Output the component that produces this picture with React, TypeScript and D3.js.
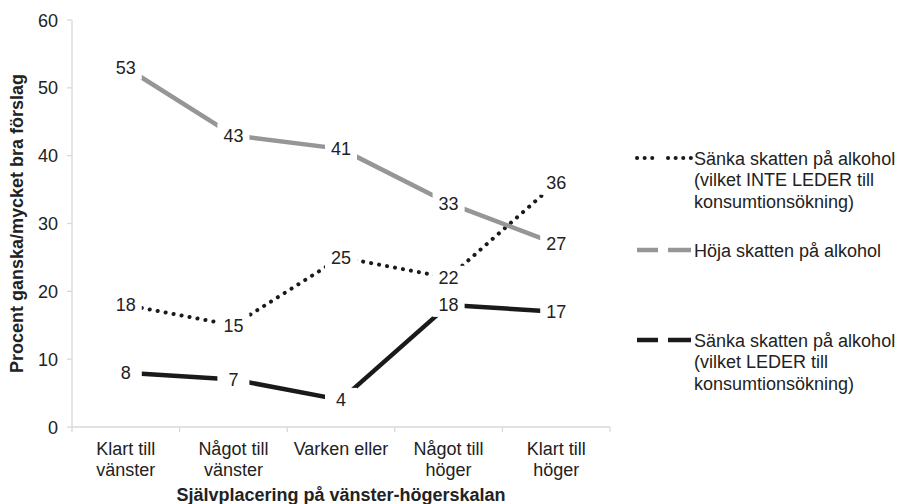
import React from "react";
import * as d3 from "d3";

const categories: string[][] = [
  ["Klart till", "vänster"],
  ["Något till", "vänster"],
  ["Varken eller"],
  ["Något till", "höger"],
  ["Klart till", "höger"],
];
const yTicks = [0, 10, 20, 30, 40, 50, 60];

const sankaInteLeder = [18, 15, 25, 22, 36];
const hoja = [53, 43, 41, 33, 27];
const sankaLeder = [8, 7, 4, 18, 17];

const seriesNames = [
  ["Sänka skatten på alkohol", "(vilket INTE LEDER till", "konsumtionsökning)"],
  ["Höja skatten på alkohol"],
  ["Sänka skatten på alkohol", "(vilket LEDER till", "konsumtionsökning)"],
];

const W = 903;
const H = 504;
const FONT = "'Liberation Sans', Arial, sans-serif";
const TXT = "#222";

export default function App() {
  const x0 = 72, x1 = 610, yTop = 20, yBot = 427;
  const idx = d3.range(categories.length);
  const band = d3.scaleBand<number>().domain(idx).range([x0, x1]).padding(0);
  const xc = (i: number) => (band(i) as number) + band.bandwidth() / 2;
  const y = d3.scaleLinear().domain([0, 60]).range([yBot, yTop]);

  const series = [
    { data: sankaInteLeder, color: "#1a1a1a", width: 4, dash: "0.1 8", cap: "round" as const },
    { data: hoja, color: "#969696", width: 4.5, dash: undefined, cap: "butt" as const },
    { data: sankaLeder, color: "#1a1a1a", width: 4.5, dash: undefined, cap: "butt" as const },
  ];
  const line = d3.line<number>().x((_, i) => xc(i)).y((d) => y(d));

  const legendY = [158, 250, 340];

  return (
    <svg width={W} height={H} style={{ position: "absolute", left: 0, top: 0, background: "#fff" }} fontFamily={FONT}>
      {/* axes */}
      <line x1={x0} x2={x0} y1={yTop} y2={yBot} stroke="#d9d9d9" strokeWidth={1.3} />
      <line x1={x0} x2={x1} y1={yBot} y2={yBot} stroke="#d9d9d9" strokeWidth={1.3} />
      {yTicks.map((t) => (
        <g key={t}>
          <line x1={x0 - 5} x2={x0} y1={y(t)} y2={y(t)} stroke="#d9d9d9" strokeWidth={1.3} />
          <text x={58} y={y(t) + 6.5} textAnchor="end" fontSize={18} fill={TXT}>{t}</text>
        </g>
      ))}
      {d3.range(categories.length + 1).map((i) => {
        const xx = i < categories.length ? (band(i) as number) : x1;
        return <line key={i} x1={xx} x2={xx} y1={yBot} y2={yBot + 5} stroke="#d9d9d9" strokeWidth={1.3} />;
      })}
      {categories.map((c, i) => (
        <text key={i} x={xc(i)} textAnchor="middle" fontSize={18} fill={TXT}>
          {c.map((l, j) => (
            <tspan key={j} x={xc(i)} y={455 + j * 20.5}>{l}</tspan>
          ))}
        </text>
      ))}
      <text x={(x0 + x1) / 2} y={501} textAnchor="middle" fontSize={18} fontWeight="bold" fill={TXT}>
        Självplacering på vänster-högerskalan
      </text>
      <text transform={`translate(23,${(yTop + yBot) / 2}) rotate(-90)`} textAnchor="middle" fontSize={18} fontWeight="bold" fill={TXT}>
        Procent ganska/mycket bra förslag
      </text>

      {/* lines */}
      {series.map((s, k) => (
        <path key={k} d={line(s.data) as string} fill="none" stroke={s.color} strokeWidth={s.width}
          strokeDasharray={s.dash} strokeLinecap={s.cap} strokeLinejoin="round" />
      ))}
      {/* data labels */}
      {series.map((s, k) =>
        s.data.map((v, i) => (
          <g key={`${k}-${i}`}>
            <rect x={xc(i) - 16} y={y(v) - 12} width={32} height={24} fill="#fff" />
            <text x={xc(i)} y={y(v) + 6.5} textAnchor="middle" fontSize={18} fill={TXT}>{v}</text>
          </g>
        ))
      )}

      {/* legend */}
      {series.map((s, k) => (
        <g key={k}>
          <line x1={637} x2={658} y1={legendY[k]} y2={legendY[k]} stroke={s.color} strokeWidth={s.width}
            strokeDasharray={s.dash ? "0.1 7.5" : undefined} strokeLinecap={s.cap} />
          <line x1={668} x2={691} y1={legendY[k]} y2={legendY[k]} stroke={s.color} strokeWidth={s.width}
            strokeDasharray={s.dash ? "0.1 7.5" : undefined} strokeLinecap={s.cap} />
          <text fontSize={18} fill={TXT}>
            {seriesNames[k].map((l, j) => (
              <tspan key={j} x={694} y={legendY[k] + 6.5 + j * 21.5}>{l}</tspan>
            ))}
          </text>
        </g>
      ))}
    </svg>
  );
}
